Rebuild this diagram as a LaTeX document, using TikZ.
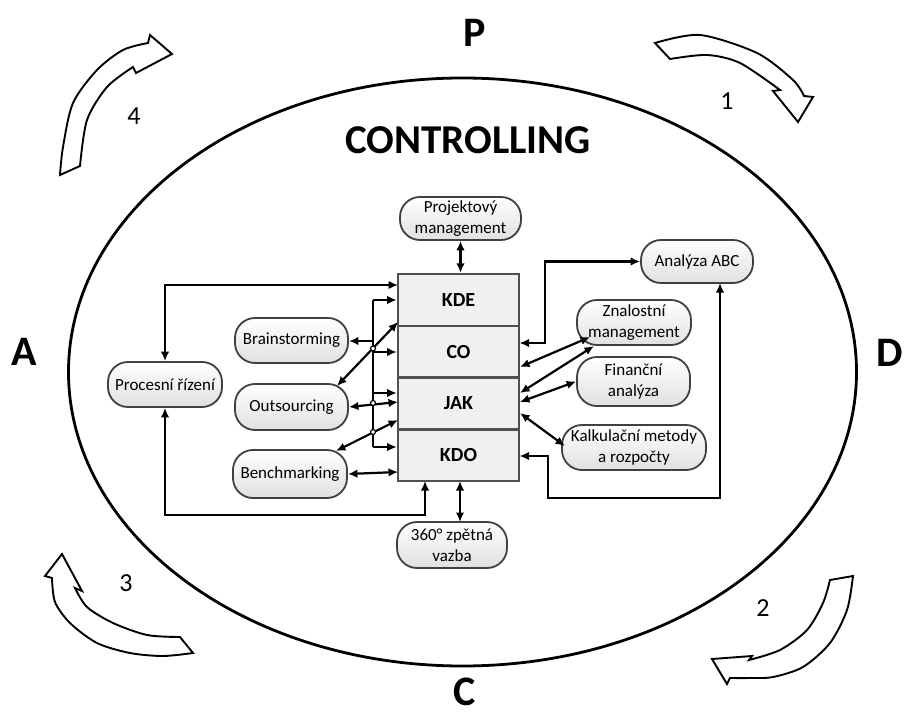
\documentclass[tikz,border=0pt]{standalone}
\usepackage{fontspec}
\setmainfont{Carlito}
\usetikzlibrary{arrows.meta}
\definecolor{edgegray}{HTML}{505050}
\tikzset{
  blk/.style={draw=edgegray, line width=2.6pt, fill=black!6, minimum width=121pt, minimum height=51.7pt, inner sep=0pt, font=\bfseries\fontsize{20}{22}\selectfont},
  pill/.style={draw=black!75, line width=1.8pt, rounded corners=20pt, top color=white, bottom color=black!12, align=center, inner sep=0pt, font=\fontsize{17}{21}\selectfont},
  conn/.style={line width=2.2pt, -{Latex[length=9.5pt,width=8.5pt]}},
  dbl/.style={line width=2.2pt, {Latex[length=9.5pt,width=8.5pt]}-{Latex[length=9.5pt,width=8.5pt]}},
  plain/.style={line width=2.2pt},
  hop/.style={draw, line width=1.2pt, fill=white, circle, inner sep=0pt, minimum size=5pt},
  bigarrow/.style={draw, line width=1.9pt, fill=white, line join=miter},
  biglet/.style={font=\bfseries\fontsize{42}{44}\selectfont},
  numlbl/.style={font=\fontsize{26}{28}\selectfont}
}
\begin{document}
\begin{tikzpicture}[x=1pt,y=-1pt]
\useasboundingbox (0,0) rectangle (905,722);
% main ellipse
\draw[line width=2.8pt] (462.5,372) ellipse [x radius=394, y radius=294];
% cycle letters and title
\node[biglet] (P) at (475,33) {P};
\node[biglet] (A) at (24,352) {A};
\node[biglet] (D) at (890,353) {D};
\node[biglet] (C) at (465,692) {C};
\node[font=\bfseries\fontsize{41}{44}\selectfont] (title) at (468,140) {CONTROLLING};
% numbers
\node[numlbl] (n4) at (134,116) {4};
\node[numlbl] (n1) at (727,101) {1};
\node[numlbl] (n3) at (126,583) {3};
\node[numlbl] (n2) at (763,608) {2};
% curved block arrows
\draw[bigarrow] plot[smooth] coordinates {(60,175) (63,147) (73,103) (97,70) (123,50) (148,43)}
  -- (150,35) -- (172,54) -- (136,73)
  -- plot[smooth] coordinates {(133,67) (107,87) (87,120) (80,166)} -- cycle;
\draw[bigarrow] plot[smooth] coordinates {(655,43) (700,35) (757,53) (793,80) (804,96)}
  -- (813,97) -- (798,122) -- (773,91)
  -- plot[smooth] coordinates {(780,90) (740,63) (707,55) (670,59)} -- cycle;
\draw[bigarrow] plot[smooth] coordinates {(853,576) (847,610) (830,643) (803,667) (773,677) (750,678) (730,678)}
  -- (727,684) -- (712,659) -- (752,656)
  -- plot[smooth] coordinates {(749,660) (780,650) (807,630) (823,603) (830,580)} -- cycle;
\draw[bigarrow] plot[smooth] coordinates {(193,653) (163,656) (130,653) (97,643) (70,623) (55,602) (52,578)}
  -- (45,576) -- (62,554) -- (82,591)
  -- plot[smooth] coordinates {(75,588) (87,607) (113,623) (147,635) (180,637)} -- cycle;
% central block
\node[blk] (kde) at (458.5,300) {KDE};
\node[blk] (co) at (458.5,351.7) {CO};
\node[blk] (jak) at (458.5,403.4) {JAK};
\node[blk] (kdo) at (458.5,455.1) {KDO};
% rounded nodes
\node[pill, minimum width=121pt, minimum height=43pt] (proj) at (460.5,218.5) {Projektový\\management};
\node[pill, minimum width=112pt, minimum height=43pt] (abc) at (697,261.5) {Analýza ABC};
\node[pill, minimum width=114pt, minimum height=45pt] (zna) at (634,322.5) {Znalostní\\management};
\node[pill, minimum width=113pt, minimum height=49pt] (fin) at (633.5,381.5) {Finanční\\analýza};
\node[pill, minimum width=144pt, minimum height=45pt] (kal) at (634,447.5) {Kalkulační metody\\a rozpočty};
\node[pill, minimum width=113pt, minimum height=45pt] (brain) at (291.5,340.5) {Brainstorming};
\node[pill, minimum width=114pt, minimum height=45pt] (proc) at (165,384.5) {Procesní řízení};
\node[pill, minimum width=113pt, minimum height=46pt] (outs) at (291.5,407) {Outsourcing};
\node[pill, minimum width=114pt, minimum height=48pt] (bench) at (290,474) {Benchmarking};
\node[pill, minimum width=110pt, minimum height=46pt] (zpet) at (452,545) {360° zpětná\\vazba};
% helper coordinates
\coordinate (b1) at (373,300);
\coordinate (b2) at (373,352);
\coordinate (b3) at (373,393);
\coordinate (b4) at (373,447);
\coordinate (p1) at (398,285);
\coordinate (p2) at (425,515);
\coordinate (j1) at (373,341);
\coordinate (k1) at (398,322);
\coordinate (o1) at (337,386);
\coordinate (k2) at (398,402);
\coordinate (k3) at (398,420);
\coordinate (bm1) at (336,451);
\coordinate (k4) at (398,472);
\coordinate (c1) at (519.5,343);
\coordinate (r1) at (545,261.5);
\coordinate (c2) at (520,367);
\coordinate (zn1) at (590,337);
\coordinate (j2) at (520,393);
\coordinate (zn2) at (594,346);
\coordinate (j3) at (520,402);
\coordinate (j4) at (520,413);
\coordinate (ka1) at (565,446);
\coordinate (a1) at (720,283);
\coordinate (r2) at (720,498);
\coordinate (r3) at (548,498);
\coordinate (k5) at (519.5,456);
\coordinate (z1) at (460,481);
\coordinate (z2) at (460,522);
% left bus
\draw[plain] (b1) -- (b4);
\draw[conn] (b1) -- (b1 -| kde.west);
\draw[conn] (b2) -- (b2 -| co.west);
\draw[conn] (b3) -- (b3 -| jak.west);
\draw[conn] (b4) -- (b4 -| kdo.west);
% Procesni rizeni loops
\draw[dbl] (proc.north) |- (p1);
\draw[dbl] (proc.south) |- (p2) -- (z1 -| p2);
% left side nodes
\draw[conn] (j1) -- (brain.east |- j1);
\draw[dbl] (k1) -- (o1);
\draw[dbl] (outs.east) -- (k2);
\draw[dbl] (k3) -- (bm1);
\draw[dbl] (bench.east) -- (k4);
\node[hop] (h1) at (373,348.5) {};
\node[hop] (h2) at (373,403) {};
\node[hop] (h3) at (373,432) {};
% top and bottom
\draw[dbl] (proj.south) -- (proj.south |- kde.north);
\draw[dbl] (z1) -- (z2);
% right side
\draw[dbl] (c1) -| (r1) -- (abc.west);
\draw[dbl] (c2) -- (zn1);
\draw[dbl] (j2) -- (zn2);
\draw[dbl] (j3) -- (fin.west);
\draw[dbl] (j4) -- (ka1);
\draw[dbl] (a1) -- (r2) -- (r3) |- (k5);
\end{tikzpicture}
\end{document}
